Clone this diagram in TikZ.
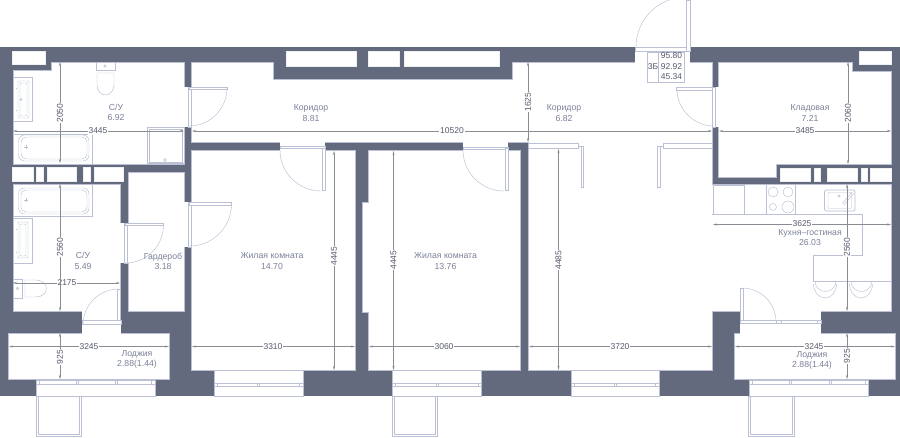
\documentclass[tikz,border=0pt]{standalone}
\usepackage{fontspec}
\setmainfont{Liberation Sans}
\usepackage{xcolor}
\usetikzlibrary{arrows.meta}
\definecolor{wallcol}{HTML}{636A7E}
\definecolor{linecol}{HTML}{BCC0D4}
\definecolor{roomtxt}{HTML}{7C8199}
\definecolor{dimtxt}{HTML}{555A6C}
\definecolor{dimcol}{HTML}{8A8C94}
\begin{document}
\begin{tikzpicture}[
    x=1pt, y=-1pt,
    >={Stealth[length=4pt,width=2pt]},
    wall/.style={fill=wallcol, draw=none},
    room/.style={fill=white, draw=linecol, line width=0.4pt},
    gap/.style={fill=white, draw=none},
    glass/.style={fill=white, draw=white!90!wallcol, line width=0.4pt},
    fix/.style={draw=linecol, line width=0.45pt},
    fixbox/.style={fix, fill=white},
    dimline/.style={<->, draw=dimcol, line width=0.35pt},
    dimtext/.style={fill=white, inner sep=0.8pt, text=dimtxt, font=\fontsize{8.5}{9}\selectfont},
    roomlabel/.style={text=roomtxt, align=center, inner sep=0pt, font=\fontsize{8.7}{10.3}\selectfont}
]
    \useasboundingbox (0,0) rectangle (900,437);

    % Outer mass of walls
    \fill[wall] (0,47) rectangle (900,396);

    % Top windows
    \fill[glass] (12,51) rectangle (45,64);
    \fill[glass] (286,51) rectangle (356.5,66);
    \fill[glass] (368.5,51) rectangle (399,66);
    \fill[glass] (404.5,51) rectangle (499,66);
    \fill[glass] (859,51) rectangle (891,64);

    % Windows between the bathrooms
    \fill[glass] (12.5,167) rectangle (33,181);
    \fill[glass] (36,167) rectangle (43,181);
    \fill[glass] (47,167) rectangle (76.5,181);
    \fill[glass] (83,167) rectangle (90,181);
    \fill[glass] (94,167) rectangle (123.5,181);

    % Windows above the kitchen
    \fill[glass] (780,168) rectangle (810,181);
    \fill[glass] (814,168) rectangle (820.5,181);
    \fill[glass] (827,168) rectangle (857,181);
    \fill[glass] (861,168) rectangle (867,181);
    \fill[glass] (870,168) rectangle (891,181);

    % Rooms
    \draw[room] (13,70) -- (51,70) -- (51,62) -- (184,62) -- (184,164) -- (13,164) -- cycle;
    \draw[room] (191.5,62) -- (273,62) -- (273,79) -- (512,79) -- (512,62) -- (712,62) -- (712,184)
        -- (891,184) -- (891,311) -- (712,311) -- (712,370) -- (528,370) -- (528,142) -- (191.5,142) -- cycle;
    \draw[room] (191.5,150.5) rectangle (355.6,370);
    \draw[room] (368.5,150) -- (520,150) -- (520,370) -- (368.5,370) -- (368.5,312) -- (362.5,312)
        -- (362.5,202) -- (368.5,202) -- cycle;
    \draw[room] (128,172) rectangle (184,311);
    \draw[room] (13,184) rectangle (120.5,311);
    \draw[room] (718.5,62) -- (852,62) -- (852,71) -- (891,71) -- (891,164) -- (776,164) -- (776,177)
        -- (718.5,177) -- cycle;

    % Loggias
    \draw[room] (8.5,333) rectangle (169,379);
    \draw[room] (734,333) rectangle (895,379);

    % Door openings
    \fill[gap] (635,46) rectangle (690,63);
    \fill[gap] (183,87) rectangle (192,127);
    \fill[gap] (183,202) rectangle (192,247);
    \fill[gap] (280,141) rectangle (325,151);
    \fill[gap] (463,141) rectangle (508,151);
    \fill[gap] (120,223) rectangle (129,263);
    \fill[gap] (711,87) rectangle (719,127);
    \fill[gap] (82,310) rectangle (121,334);
    \fill[gap] (740,310) rectangle (821,334);

    % Bottom windows
    \draw[room] (36,379) rectangle (155,396);
    \draw[room] (214,370) rectangle (303,396);
    \draw[room] (392,370) rectangle (481,396);
    \draw[room] (571,370) rectangle (659,396);
    \draw[room] (749,379) rectangle (868,396);

    % Window frames
    \draw[fix] (36,380.5) rectangle (155,384);
    \draw[fix] (214,383) rectangle (303,386.5);
    \draw[fix] (392,383) rectangle (481,386.5);
    \draw[fix] (571,383) rectangle (659,386.5);
    \draw[fix] (749,380.5) rectangle (868,384);
    \draw[fix] (776,320) rectangle (821,323.5);
    \draw[fix] (39.5,380.5) -- (39.5,384) (76,380.5) -- (76,384) (78,380.5) -- (78,384) (115,380.5) -- (115,384) (117,380.5) -- (117,384) (151,380.5) -- (151,384);
    \draw[fix] (217,383) -- (217,386.5) (257.5,383) -- (257.5,386.5) (259.5,383) -- (259.5,386.5) (299,383) -- (299,386.5);
    \draw[fix] (395,383) -- (395,386.5) (436,383) -- (436,386.5) (438,383) -- (438,386.5) (478,383) -- (478,386.5);
    \draw[fix] (574,383) -- (574,386.5) (614,383) -- (614,386.5) (616,383) -- (616,386.5) (655,383) -- (655,386.5);
    \draw[fix] (752,380.5) -- (752,384) (789,380.5) -- (789,384) (791,380.5) -- (791,384) (829,380.5) -- (829,384) (831,380.5) -- (831,384) (865,380.5) -- (865,384);
    \draw[fix] (781,320) -- (781,323.5) (817,320) -- (817,323.5);

    % Balcony leaves
    \draw[fix] (36,396) -- (36,436) -- (81.5,436) -- (81.5,396);
    \draw[fix] (38,396) -- (38,434) -- (79.5,434) -- (79.5,396);
    \draw[fix] (392,396) -- (392,436) -- (437.5,436) -- (437.5,396);
    \draw[fix] (394,396) -- (394,434) -- (435.5,434) -- (435.5,396);
    \draw[fix] (748,396) -- (748,436) -- (794,436) -- (794,396);
    \draw[fix] (750,396) -- (750,434) -- (792,434) -- (792,396);

    % Entrance door
    \draw[fix] (635,47) rectangle (687,51);
    \draw[fixbox] (686,0) rectangle (690,51);
    \draw[fix] (636,47) arc[start angle=180,end angle=270,radius=50];

    % Doors
    \draw[fixbox] (188.5,87) rectangle (191,127);
    \draw[fixbox] (189,87) rectangle (227,89.5);
    \draw[fix] (227,88) arc[start angle=0,end angle=90,radius=38];

    \draw[fixbox] (188.5,202) rectangle (191,247);
    \draw[fixbox] (189,202) rectangle (231.5,205);
    \draw[fix] (231.5,204) arc[start angle=0,end angle=90,radius=42];

    \draw[fixbox] (124.5,223) rectangle (127.5,263);
    \draw[fixbox] (125,223) rectangle (163.5,225.5);
    \draw[fix] (163.5,225) arc[start angle=0,end angle=90,radius=38];

    \draw[fixbox] (280,146) rectangle (325,148.5);
    \draw[fixbox] (322,148) rectangle (325,190);
    \draw[fix] (280,150) arc[start angle=180,end angle=90,radius=41];

    \draw[fixbox] (463,147) rectangle (508,149.5);
    \draw[fixbox] (505.5,148) rectangle (508.5,190);
    \draw[fix] (463,150) arc[start angle=180,end angle=90,radius=41];

    \draw[fixbox] (82,320) rectangle (121,324);
    \draw[fixbox] (117.5,289) rectangle (120.5,320);
    \draw[fix] (119,289) arc[start angle=270,end angle=180,radius=36];

    \draw[fixbox] (712,87) rectangle (715.5,127);
    \draw[fixbox] (676.5,87) rectangle (712,90);
    \draw[fix] (677,89) arc[start angle=180,end angle=90,radius=37];

    \draw[fixbox] (740,320) rectangle (776,323.5);
    \draw[fixbox] (740,288) rectangle (743,320);
    \draw[fix] (742,288) arc[start angle=270,end angle=360,radius=34];

    % Corridor partition
    \draw[fixbox] (528,143) rectangle (578,148);
    \draw[fixbox] (581,146) rectangle (583.5,187);
    \draw[fix] (578,146) -- (581,146);
    \draw[fixbox] (663,143.5) rectangle (712,148);
    \draw[fixbox] (657,146) rectangle (660,187);
    \draw[fix] (660,146) -- (663,146);

    % Upper bathroom fittings
    \draw[fix] (96,62) rectangle (115,70);
    \draw[fix] (105,66) circle[radius=1.2];
    \draw[fix] (97,73) -- (114,73) -- (114,85) arc[start angle=0,end angle=180,x radius=8.5,y radius=10] -- cycle;
    \draw[fix] (13.5,77) rectangle (32,121.5);
    \draw[fix, rounded corners=1pt] (18,81) rectangle (29,118);
    \draw[fix, rounded corners=1pt] (20,83) rectangle (27,116);
    \draw[fix] (21,99.5) circle[radius=1];
    \draw[fix] (16,88) -- (17,88) (16,110) -- (17,110);
    \draw[fix] (13,134) rectangle (92,164);
    \draw[fix, rounded corners=6pt] (18.5,135) rectangle (89,161);
    \draw[fix, rounded corners=5pt] (21,137) rectangle (87,159);
    \draw[fix] (24,147) -- (28,147) (26,145) -- (26,149);
    \draw[fix] (147.5,127.5) rectangle (184,163.5);
    \draw[fix] (149,129) rectangle (182.5,162);
    \draw[fix] (165,160) circle[radius=1.5];

    % Lower bathroom fittings
    \draw[fix] (13,184) rectangle (92,216.5);
    \draw[fix, rounded corners=6pt] (18.5,188) rectangle (89,214);
    \draw[fix, rounded corners=5pt] (21,190) rectangle (87,212);
    \draw[fix] (24,200) -- (28,200) (26,198) -- (26,202);
    \draw[fix] (13.5,218) rectangle (32,263.5);
    \draw[fix, rounded corners=1pt] (18,222) rectangle (28,258);
    \draw[fix, rounded corners=1pt] (20,224) rectangle (26,256);
    \draw[fix] (16,229) -- (17,229) (16,252) -- (17,252);
    \draw[fix] (13.5,279) rectangle (22,298);
    \draw[fix] (17.5,288.5) circle[radius=1.2];
    \draw[fix] (25,280) -- (36,280) arc[start angle=-90,end angle=90,x radius=10.5,y radius=8.5] -- (25,297) -- cycle;

    % Kitchen
    \draw[fix] (712,214.5) -- (862.5,214.5) -- (862.5,255.5) -- (813.5,255.5) -- (813.5,281) -- (891,281);
    \draw[fix, line width=0.8pt] (713,185.5) rectangle (744.5,214);
    \draw[fix] (766,184) -- (766,214) (795.5,184) -- (795.5,214);
    \draw[fix] (773,192) circle[radius=5];
    \draw[fix] (788,192) circle[radius=5];
    \draw[fix] (773,207) circle[radius=3.5];
    \draw[fix] (788,207) circle[radius=6];
    \draw[fix, rounded corners=2pt, line width=0.7pt] (824.5,190) rectangle (855,211);
    \draw[fix, rounded corners=1pt] (828,192.5) rectangle (851.5,208.5);
    \draw[fix] (839,196) circle[radius=1.2];
    \draw[fix] (842,204) -- (852,192) (844,205) -- (853.5,193.5);
    \draw[fix] (815,281) arc[start angle=180,end angle=0,radius=10.5];
    \draw[fix] (813.5,284) arc[start angle=180,end angle=0,x radius=11.5,y radius=14];
    \draw[fix] (851,281) arc[start angle=180,end angle=0,radius=10.5];
    \draw[fix] (849.5,284) arc[start angle=180,end angle=0,x radius=11.5,y radius=14];

    % Apartment table
    \draw[fixbox] (647.5,52) rectangle (684,82);
    \draw[fix] (658.5,52) -- (658.5,82);
    \node[dimtext, fill=none] (tabType) at (653,66.5) {3Б};
    \node[dimtext, fill=none] (tabTotal) at (671.5,56) {95.80};
    \node[dimtext, fill=none] (tabArea) at (671.5,66.5) {92.92};
    \node[dimtext, fill=none] (tabLive) at (671.5,77) {45.34};

    % Horizontal dimensions
    \draw[dimline] (13,131) -- (184,131);
    \node[dimtext] (dimA) at (98,131) {3445};
    \draw[dimline] (192,131) -- (712,131);
    \node[dimtext] (dimB) at (452,131) {10520};
    \draw[dimline] (719,131) -- (891,131);
    \node[dimtext] (dimC) at (805,131) {3485};
    \draw[dimline] (713,224.5) -- (891,224.5);
    \node[dimtext] (dimD) at (802,224) {3625};
    \draw[dimline] (13,283) -- (120,283);
    \node[dimtext] (dimE) at (67,283) {2175};
    \draw[dimline] (9,346.5) -- (169,346.5);
    \node[dimtext] (dimF) at (89,346.5) {3245};
    \draw[dimline] (192,346.5) -- (355,346.5);
    \node[dimtext] (dimG) at (273,346.5) {3310};
    \draw[dimline] (369,346.5) -- (520,346.5);
    \node[dimtext] (dimH) at (444,346.5) {3060};
    \draw[dimline] (529,346.5) -- (712,346.5);
    \node[dimtext] (dimI) at (620,346.5) {3720};
    \draw[dimline] (735,346.5) -- (895,346.5);
    \node[dimtext] (dimJ) at (814,346.5) {3245};

    % Vertical dimensions
    \draw[dimline] (60,62) -- (60,163);
    \node[dimtext, rotate=90] (dimK) at (60,113) {2050};
    \draw[dimline] (528,62) -- (528,142);
    \node[dimtext, rotate=90] (dimL) at (528,102) {1625};
    \draw[dimline] (848,62) -- (848,164);
    \node[dimtext, rotate=90] (dimM) at (848,113) {2060};
    \draw[dimline] (60,184) -- (60,311);
    \node[dimtext, rotate=90] (dimN) at (60,247) {2560};
    \draw[dimline] (847,184) -- (847,311);
    \node[dimtext, rotate=90] (dimO) at (847,247) {2560};
    \draw[dimline] (60,333) -- (60,379);
    \node[dimtext, rotate=90] (dimP) at (60,357) {925};
    \draw[dimline] (847,333) -- (847,379);
    \node[dimtext, rotate=90] (dimQ) at (847,356) {925};
    \draw[dimline] (334,151) -- (334,370);
    \node[dimtext, rotate=90] (dimR) at (334,256) {4445};
    \draw[dimline] (393.5,151) -- (393.5,370);
    \node[dimtext, rotate=90] (dimS) at (393.5,260) {4445};
    \draw[dimline] (558.5,149) -- (558.5,370);
    \node[dimtext, rotate=90] (dimT) at (558.5,260) {4485};

    % Room names
    \node[roomlabel] (bathOne) at (116,112.5) {С/У\\6.92};
    \node[roomlabel] (corrOne) at (311,113) {Коридор\\8.81};
    \node[roomlabel] (corrTwo) at (564,113) {Коридор\\6.82};
    \node[roomlabel] (store) at (810,113) {Кладовая\\7.21};
    \node[roomlabel] (bathTwo) at (83,261) {С/У\\5.49};
    \node[roomlabel] (wardrobe) at (163,261) {Гардероб\\3.18};
    \node[roomlabel] (bedOne) at (272,261) {Жилая комната\\14.70};
    \node[roomlabel] (bedTwo) at (445.5,261) {Жилая комната\\13.76};
    \node[roomlabel] (kitchen) at (810,237.5) {Кухня–гостиная\\26.03};
    \node[roomlabel] (logOne) at (137,359.5) {Лоджия\\2.88(1.44)};
    \node[roomlabel] (logTwo) at (812,360.5) {Лоджия\\2.88(1.44)};
\end{tikzpicture}
\end{document}
